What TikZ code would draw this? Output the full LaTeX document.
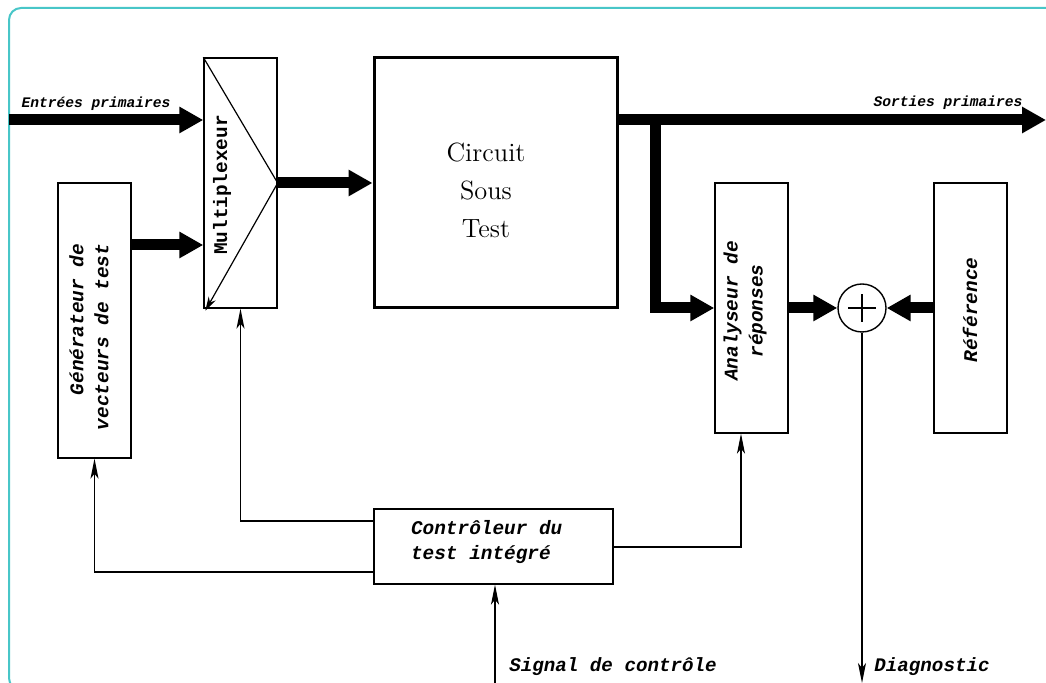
\documentclass[tikz,border=0pt]{standalone}
\usepackage{fontspec}
\usepackage{tikz}
\usetikzlibrary{calc,arrows.meta}
\newfontfamily\courfont{Liberation Mono}
\definecolor{cadre}{RGB}{72,198,200}

\tikzset{
    bloc/.style={draw, line width=0.7pt, inner sep=0pt},
    bus/.style={line width=5.5pt, -{Triangle[length=12pt,width=12.5pt]}},
    sig/.style={line width=0.65pt, -{Stealth[length=10pt,width=4pt,inset=2.5pt]}},
    etiq/.style={font=\courfont\bfseries\itshape\fontsize{7.3}{9}\selectfont},
    etiqbas/.style={font=\courfont\bfseries\itshape\fontsize{9.6}{12}\selectfont},
    texte/.style={font=\courfont\bfseries\itshape\fontsize{9.7}{12.5}\selectfont},
}

\begin{document}
\begin{tikzpicture}[x=0.5pt,y=-0.5pt]
        \useasboundingbox (0,0) rectangle (1046,683);
        \clip (0,0) rectangle (1046,683);
        \draw[cadre, line width=1pt, rounded corners=6pt]
            (1060,8) -- (9,8) -- (9,690) -- (1060,690);

        % blocs
        \node[bloc, minimum width=36.5pt, minimum height=125pt] (mux) at (240.5,183) {};
        \node[bloc, line width=1.5pt, minimum width=121.5pt, minimum height=125pt] (cut) at (495.5,183) {};
        \node[bloc, minimum width=36.5pt, minimum height=137.5pt] (gen) at (94.5,320.5) {};
        \node[bloc, minimum width=36.5pt, minimum height=125pt] (ana) at (751.5,308) {};
        \node[bloc, minimum width=36.5pt, minimum height=125pt] (ref) at (970.5,308) {};
        \node[bloc, minimum width=119.5pt, minimum height=37.5pt] (ctrl) at (493.5,546.5) {};
        \node[draw, circle, line width=0.7pt, minimum size=24pt, inner sep=0pt] (sum) at (862,308) {};

        % textes des blocs
        \node[texte, font=\courfont\bfseries\fontsize{9.7}{12.5}\selectfont, rotate=90] (muxtxt) at (222,185) {Multiplexeur};
        \node[font=\fontsize{13.2}{19}\selectfont, align=center] (cuttxt) at (486,190) {Circuit\\Sous\\Test};
        \node[texte, rotate=90, align=right] (gentxt) at (89,337) {Générateur de\\vecteurs de test};
        \node[texte, rotate=90, align=center] (anatxt) at (745,311) {Analyseur de\\réponses};
        \node[texte, rotate=90] (reftxt) at (970,310) {Référence};
        \node[texte, align=left, anchor=west] (ctrltxt) at (404,542) {Contrôleur du\\test intégré};
        \draw[line width=1pt] (sum.center) ++(-7pt,0) -- ++(14pt,0)
            (sum.center) ++(0,-7pt) -- ++(0,14pt);

        % multiplexeur
        \draw[line width=0.6pt] (mux.north west) -- (mux.east);
        \draw[line width=0.6pt, -{Stealth[length=7pt,width=4pt]}] (mux.east) -- ([shift={(1pt,-1pt)}]mux.south west);

        % bus
        \coordinate (inL) at (9,120);
        \coordinate (outR) at (1046,120);
        \coordinate (br) at (655,120);
        \coordinate (g1) at (0,245);
        \draw[bus] (inL) -- (inL -| mux.west);
        \draw[bus] (g1 -| gen.east) -- (g1 -| mux.west);
        \draw[bus] (mux.east) -- (cut.west);
        \draw[bus] (outR -| cut.east) -- (outR);
        \draw[bus] (br) |- (ana.west);
        \draw[bus] (ana.east) -- (sum.west);
        \draw[bus] (ref.west) -- (sum.east);
        \node[etiq] (entrees) at (96,104) {Entrées primaires};
        \node[etiq] (sorties) at (948,103) {Sorties primaires};

        % commandes
        \coordinate (c1) at (0,521);
        \coordinate (c2) at (0,572);
        \coordinate (c3) at (0,547);
        \coordinate (sigIn) at (495,690);
        \coordinate (diagOut) at (862,683);
        \draw[sig] (c1 -| ctrl.west) -| (mux.south);
        \draw[sig] (c2 -| ctrl.west) -| (gen.south);
        \draw[sig] (c3 -| ctrl.east) -| ([xshift=-5.25pt]ana.south);
        \draw[sig] (sigIn) -- (sigIn |- ctrl.south);
        \draw[sig] (sum.south) -- (diagOut);
        \node[etiqbas] (signal) at (613,667) {Signal de contrôle};
        \node[etiqbas] (diag) at (932,667) {Diagnostic};
\end{tikzpicture}
\end{document}
